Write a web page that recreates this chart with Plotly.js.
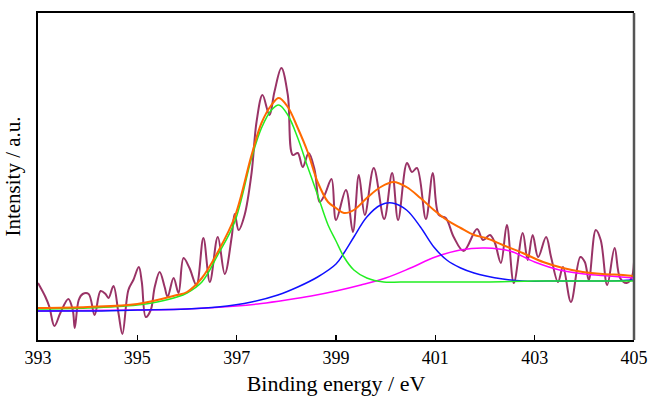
<!DOCTYPE html>
<html>
<head>
<meta charset="utf-8">
<script src="https://cdn.plot.ly/plotly-3.0.1.min.js"></script>
<style>html,body{margin:0;padding:0;background:#fff;}#chart{width:655px;height:397px;}</style>
</head>
<body>
<div id="chart"></div>
<script>
// Raw spectrum (binding energy in eV, intensity in arbitrary units)
const rawEnergy = [393.00,393.15,393.23,393.33,393.45,393.61,393.70,393.74,393.82,393.90,394.02,394.14,394.26,394.36,394.42,394.52,394.62,394.70,394.82,394.92,395.03,395.09,395.17,395.27,395.35,395.45,395.55,395.61,395.73,395.83,395.93,396.05,396.19,396.33,396.46,396.62,396.76,396.90,396.96,397.04,397.16,397.30,397.40,397.52,397.66,397.76,397.90,398.03,398.13,398.23,398.33,398.45,398.57,398.67,398.77,398.91,399.00,399.20,399.34,399.46,399.58,399.76,399.97,400.13,400.25,400.43,400.53,400.63,400.81,400.95,401.07,401.21,401.37,401.57,401.84,401.96,402.10,402.20,402.32,402.44,402.58,402.76,402.86,402.96,403.07,403.23,403.33,403.47,403.57,403.73,403.92,404.01,404.09,404.23,404.33,404.46,404.61,404.72,404.85,404.95,405.00];
const rawIntensity = [57,43,33,14,27,41,30,12,40,46,46,25,49,46,42,54,27,6,50,60,73,58,23,30,53,68,53,43,62,47,82,72,55,102,58,103,66,103,126,110,125,167,218,245,225,248,272,245,185,187,173,187,170,138,145,161,120,150,108,165,125,172,121,167,120,177,168,172,121,167,125,122,103,89,111,100,105,97,77,115,57,107,80,105,83,103,83,58,73,38,83,78,60,110,100,55,92,62,57,62,78];

// Fitted envelope
const envEnergy = [393,394,395,395.8,396,396.3,396.62,396.96,397.3,397.5,397.7,397.85,398.03,398.23,398.43,398.63,398.84,399.0,399.16,399.36,399.62,399.9,400.16,400.42,400.7,400.97,401.23,401.51,401.78,402.02,402.36,402.76,403.17,403.57,403.97,404.37,404.78,405];
const envIntensity = [32,33,36,45,48,62,88,123,185,217,235,242,233,212,188,158,138,132,127,130,142,153,158,153,142,130,120,112,105,102,95,87,78,72,68,66,65,64];

// Component 1 (green, ~397.8 eV)
const c1Energy = [393,394,395,395.4,395.8,396,396.3,396.62,396.96,397.3,397.5,397.7,397.85,398.03,398.23,398.43,398.63,398.84,399.0,399.16,399.36,399.62,399.96,400.3,401,402,403,404,405];
const c1Intensity = [31,32,35,38,43,47,58,85,118,182,212,230,235,225,202,173,145,115,99,83,70,62,58,58,58,58,59,59,59];

// Component 2 (blue, ~400.1 eV)
const c2Energy = [393,394,395,396,396.62,397.3,397.83,398.23,398.63,399.0,399.16,399.36,399.62,399.9,400.13,400.42,400.7,400.97,401.23,401.51,401.78,402.02,402.36,402.76,403.5,404.5,405];
const c2Intensity = [29,29,30,31,33,38,45,53,63,76,87,103,123,135,137,130,113,93,80,72,67,64,61,59,59,59,60];

// Component 3 (magenta, ~402 eV)
const c3Energy = [393,394,395,396,397,397.5,398,398.5,399,399.5,400,400.5,401,401.5,402,402.5,403,403.5,404,404.5,405];
const c3Intensity = [29,29.5,30,31,34,36.5,40,44,49,55,62,72,83,90,92,89,78,70,66,64,62];

const xTicks = [393,395,397,399,401,403,405];
const xTickText = ['393','395','397','399','401','403','405'];

const traces = [
  {x: rawEnergy, y: rawIntensity, mode: 'lines', line: {color: '#993366', width: 2, shape: 'spline', smoothing: 1}, name: 'raw'},
  {x: c3Energy, y: c3Intensity, mode: 'lines', line: {color: '#ff00ff', width: 1.5, shape: 'spline'}, name: 'c3'},
  {x: c2Energy, y: c2Intensity, mode: 'lines', line: {color: '#1010ff', width: 1.5, shape: 'spline'}, name: 'c2'},
  {x: c1Energy, y: c1Intensity, mode: 'lines', line: {color: '#22ee22', width: 1.5, shape: 'spline'}, name: 'c1'},
  {x: envEnergy, y: envIntensity, mode: 'lines', line: {color: '#ff6a00', width: 2, shape: 'spline'}, name: 'fit'}
];

const font = {family: '"Liberation Serif", "Times New Roman", serif', color: '#000'};

const layout = {
  width: 655, height: 397,
  margin: {l: 38, r: 21, t: 13, b: 57},
  paper_bgcolor: '#fff', plot_bgcolor: '#fff',
  showlegend: false,
  font: font,
  xaxis: {
    range: [393, 405],
    tickvals: xTicks, ticktext: xTickText,
    ticks: 'inside', ticklen: 5, tickwidth: 1.5, tickcolor: '#000',
    showline: true, linecolor: '#000', linewidth: 2, mirror: true,
    showgrid: false, zeroline: false,
    tickfont: {family: font.family, size: 18, color: '#000'},
    title: {text: 'Binding energy / eV', font: {family: font.family, size: 22, color: '#000'}, standoff: 9}
  },
  yaxis: {
    range: [0, 327],
    showticklabels: false, ticks: '',
    showline: true, linecolor: '#000', linewidth: 2, mirror: false,
    showgrid: false, zeroline: false,
    title: {text: 'Intensity / a.u.', font: {family: font.family, size: 21, color: '#000'}, standoff: 10}
  },
  shapes: [
    {type: 'line', xref: 'paper', yref: 'paper', x0: 1, x1: 1, y0: 0, y1: 1, line: {color: '#555', width: 2.5}}
  ]
};

Plotly.newPlot('chart', traces, layout, {staticPlot: true, displayModeBar: false});
</script>
</body>
</html>
